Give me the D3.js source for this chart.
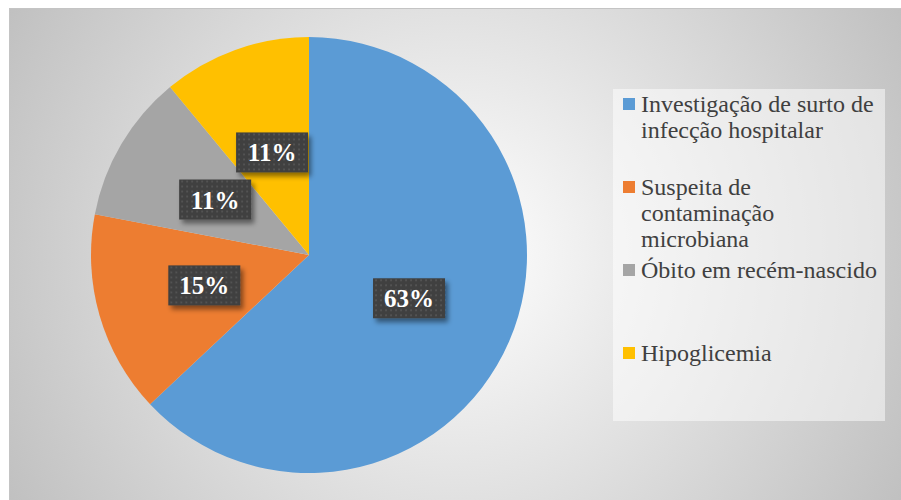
<!DOCTYPE html>
<html>
<head>
<meta charset="utf-8">
<script src="https://cdn.jsdelivr.net/npm/d3@7"></script>
<style>
  html, body { margin: 0; padding: 0; background: #ffffff; }
  svg { display: block; }
</style>
</head>
<body>
<svg id="chart" width="901" height="500"></svg>
<script>
// Motivos das investigações (percentual de cada categoria)
const categories = [
  "Investigação de surto de infecção hospitalar",
  "Suspeita de contaminação microbiana",
  "Óbito em recém-nascido",
  "Hipoglicemia"
];
const legendLines = [
  ["Investigação de surto de", "infecção hospitalar"],
  ["Suspeita de", "contaminação", "microbiana"],
  ["Óbito em recém-nascido"],
  ["Hipoglicemia"]
];
const values = [63, 15, 11, 11];
const colors = ["#5B9BD5", "#ED7D31", "#A5A5A5", "#FFC000"];

const W = 901, H = 500;
const svg = d3.select("#chart");
const defs = svg.append("defs");

// Chart area background: radial fade from white to grey
const bg = defs.append("radialGradient")
  .attr("id", "bgGrad")
  .attr("gradientUnits", "userSpaceOnUse")
  .attr("cx", 455).attr("cy", 254).attr("r", 520);
bg.append("stop").attr("offset", "0%").attr("stop-color", "#ffffff");
bg.append("stop").attr("offset", "100%").attr("stop-color", "#bfbfbf");

// Dotted dark fill for the data labels
const pat = defs.append("pattern")
  .attr("id", "dots")
  .attr("patternUnits", "userSpaceOnUse")
  .attr("width", 5).attr("height", 5);
pat.append("rect").attr("width", 5).attr("height", 5).attr("fill", "#3f3f3f");
pat.append("rect").attr("x", 1).attr("y", 1).attr("width", 2).attr("height", 2).attr("fill", "#525252");

const shadow = defs.append("filter")
  .attr("id", "shadow")
  .attr("x", "-30%").attr("y", "-30%").attr("width", "160%").attr("height", "180%");
shadow.append("feDropShadow")
  .attr("dx", 3).attr("dy", 4).attr("stdDeviation", 2.5)
  .attr("flood-color", "#000").attr("flood-opacity", 0.45);

// Background panel
svg.append("rect")
  .attr("x", 9.5).attr("y", 8.5)
  .attr("width", W - 9).attr("height", H - 8)
  .attr("fill", "url(#bgGrad)")
  .attr("stroke", "#c4c4c4").attr("stroke-width", 1);

// Pie
const cx = 309, cy = 255, R = 218;
const pie = d3.pie().sort(null).value(d => d);
const arcs = pie(values);
const arc = d3.arc().innerRadius(0).outerRadius(R);

const g = svg.append("g").attr("transform", `translate(${cx},${cy})`);
g.selectAll("path.slice")
  .data(arcs)
  .join("path")
  .attr("class", "slice")
  .attr("d", arc)
  .attr("fill", (d, i) => colors[i]);

// Data labels
const boxW = 72, boxH = 40;
const labels = g.selectAll("g.lbl")
  .data(arcs)
  .join("g")
  .attr("class", "lbl")
  .attr("transform", d => {
    const [x, y] = arc.centroid(d);
    return `translate(${x},${y})`;
  });
labels.append("rect")
  .attr("x", -boxW / 2).attr("y", -boxH / 2)
  .attr("width", boxW).attr("height", boxH)
  .attr("fill", "url(#dots)")
  .attr("filter", "url(#shadow)");
labels.append("text")
  .attr("text-anchor", "middle")
  .attr("y", 9)
  .attr("font-family", "'Liberation Serif', 'Times New Roman', serif")
  .attr("font-weight", "bold")
  .attr("font-size", 25)
  .attr("fill", "#ffffff")
  .text(d => d.data + "%");

// Legend
const lgX = 613, lgY = 89, lgW = 272, lgH = 332;
svg.append("rect")
  .attr("x", lgX).attr("y", lgY)
  .attr("width", lgW).attr("height", lgH)
  .attr("fill", "#ffffff").attr("fill-opacity", 0.5);

const slot = d3.scaleBand().domain(categories).range([lgY, lgY + lgH]);
const lineH = 26;
const items = svg.selectAll("g.item")
  .data(categories)
  .join("g")
  .attr("class", "item")
  .attr("transform", d => `translate(${lgX}, ${slot(d) + 23})`);
items.append("rect")
  .attr("x", 10).attr("y", -14)
  .attr("width", 12).attr("height", 12)
  .attr("fill", (d, i) => colors[i]);
items.append("text")
  .attr("x", 28)
  .attr("font-family", "'Liberation Serif', 'Times New Roman', serif")
  .attr("font-size", 24)
  .attr("fill", "#404040")
  .selectAll("tspan")
  .data((d, i) => legendLines[i])
  .join("tspan")
  .attr("x", 28)
  .attr("dy", (d, j) => j === 0 ? 0 : lineH)
  .text(d => d);
</script>
</body>
</html>
